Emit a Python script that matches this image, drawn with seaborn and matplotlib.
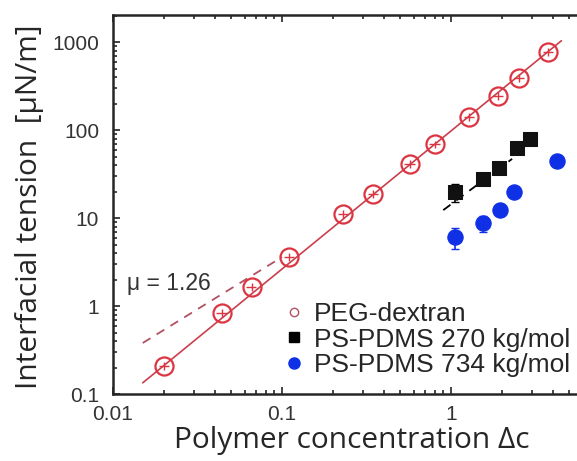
import numpy as np
import pandas as pd
import matplotlib
matplotlib.use("Agg")
import matplotlib.pyplot as plt
from matplotlib.ticker import FixedLocator, FixedFormatter, LogLocator, NullFormatter
import seaborn as sns

# data
peg_x = [0.02, 0.044, 0.066, 0.11, 0.23, 0.345, 0.57, 0.80, 1.28, 1.9, 2.52, 3.75]
peg_y = [0.21, 0.83, 1.64, 3.6, 11.1, 19, 41, 69, 141, 243, 390, 770]

ps270_x = [1.06, 1.55, 1.92, 2.45, 2.93]
ps270_y = [19.7, 27.7, 37, 62, 79]
ps270_err = [4.5, 2.0, 2.5, 4.0, 5.0]

ps734_x = [1.05, 1.55, 1.95, 2.36, 4.24]
ps734_y = [6.1, 8.7, 12.5, 19.7, 44.5]
ps734_err = [1.6, 1.8, 2.0, 0.5, 1.0]

peg_fit_x = [0.015, 4.5]
peg_fit_y = [0.134, 1035]
slope_x = [0.015, 0.1]
slope_y = [0.38, 3.6]
ps_fit_x = [0.9, 2.3]
ps_fit_y = [12.3, 47]

labels = ["PEG-dextran", "PS-PDMS 270 kg/mol", "PS-PDMS 734 kg/mol"]
x_ticks = [0.01, 0.1, 1]
x_ticklabels = ["0.01", "0.1", "1"]
y_ticks = [0.1, 1, 10, 100, 1000]
y_ticklabels = ["0.1", "1", "10", "100", "1000"]

red = "#dc3440"
line_red = "#c9404c"
dash_red = "#b05262"
blue = "#1030e6"

sns.set_style("ticks")
plt.rcParams["font.family"] = ["Liberation Sans", "DejaVu Sans"]

fig = plt.figure(figsize=(5.77, 4.61), dpi=100)
ax = fig.add_axes([113 / 577, 67 / 461, 507 / 577, 379 / 461])
ax.set_xscale("log")
ax.set_yscale("log")

# fit lines
sns.lineplot(x=peg_fit_x, y=peg_fit_y, ax=ax, color=line_red, lw=1.2, zorder=2)
sns.lineplot(x=slope_x, y=slope_y, ax=ax, color=dash_red, lw=1.3, zorder=2)
ax.lines[-1].set_linestyle((0, (5, 4)))
sns.lineplot(x=ps_fit_x, y=ps_fit_y, ax=ax, color="black", lw=1.3, zorder=2)
ax.lines[-1].set_linestyle((0, (5, 4)))

# PEG-dextran: open circles with small crosses
ax.errorbar(peg_x, peg_y, xerr=np.array(peg_x) * 0.07, yerr=np.array(peg_y) * 0.1,
            fmt="none", ecolor=red, elinewidth=1.0, zorder=3)
ax.plot(peg_x, peg_y, "o", mfc="none", mec=red, ms=13, mew=1.6, zorder=4)

# PS-PDMS
ax.errorbar(ps270_x, ps270_y, yerr=ps270_err, fmt="none", ecolor="black",
            elinewidth=1.2, capsize=3, zorder=3)
ax.errorbar(ps734_x, ps734_y, yerr=ps734_err, fmt="none", ecolor=blue,
            elinewidth=1.2, capsize=3, zorder=3)
sns.scatterplot(x=ps270_x, y=ps270_y, ax=ax, marker="s", s=90, color="#111111",
                edgecolor="#111111", zorder=5)
sns.scatterplot(x=ps734_x, y=ps734_y, ax=ax, marker="o", s=120, color=blue,
                edgecolor=blue, zorder=5)

ax.set_xlim(0.01, 10)
ax.set_ylim(0.1, 2030)

ax.xaxis.set_major_locator(FixedLocator(x_ticks))
ax.xaxis.set_major_formatter(FixedFormatter(x_ticklabels))
ax.yaxis.set_major_locator(FixedLocator(y_ticks))
ax.yaxis.set_major_formatter(FixedFormatter(y_ticklabels))
ax.xaxis.set_minor_locator(LogLocator(base=10, subs=np.arange(2, 10)))
ax.yaxis.set_minor_locator(LogLocator(base=10, subs=np.arange(2, 10)))
ax.xaxis.set_minor_formatter(NullFormatter())
ax.yaxis.set_minor_formatter(NullFormatter())
ax.tick_params(which="both", direction="in", top=True, right=True, width=1.2,
               labelsize=15, labelcolor="#333333")
ax.tick_params(axis="y", pad=10)
ax.tick_params(axis="x", pad=8)
ax.tick_params(which="major", length=5)
ax.tick_params(which="minor", length=3)
for s in ax.spines.values():
    s.set_linewidth(1.8)

ax.text(0.0121, 1.8, "\u03bc = 1.26", fontsize=16.5, color="#333333", va="center")

ax.set_xlabel("Polymer concentration \u0394c", fontsize=21.5, family="Open Sans")
ax.set_ylabel("Interfacial tension  [\u03bcN/m]", fontsize=21.5, family="Open Sans")
ax.xaxis.set_label_coords(352 / 577, 35 / 461, transform=fig.transFigure)
ax.yaxis.set_label_coords(44 / 577, 254 / 461, transform=fig.transFigure)

# legend
h1, = ax.plot([], [], "o", mfc="none", mec=dash_red, ms=6, mew=1.0)
h2, = ax.plot([], [], "s", color="black", ms=7)
h3, = ax.plot([], [], "o", color=blue, ms=8)
ax.legend([h1, h2, h3], labels, loc="upper left", bbox_to_anchor=(270 / 577, 1 - 289 / 461),
          bbox_transform=fig.transFigure, frameon=False, fontsize=19,
          handlelength=0.8, handletextpad=0.35, labelspacing=0.05, borderpad=0)

fig.savefig("out.png", dpi=100)
